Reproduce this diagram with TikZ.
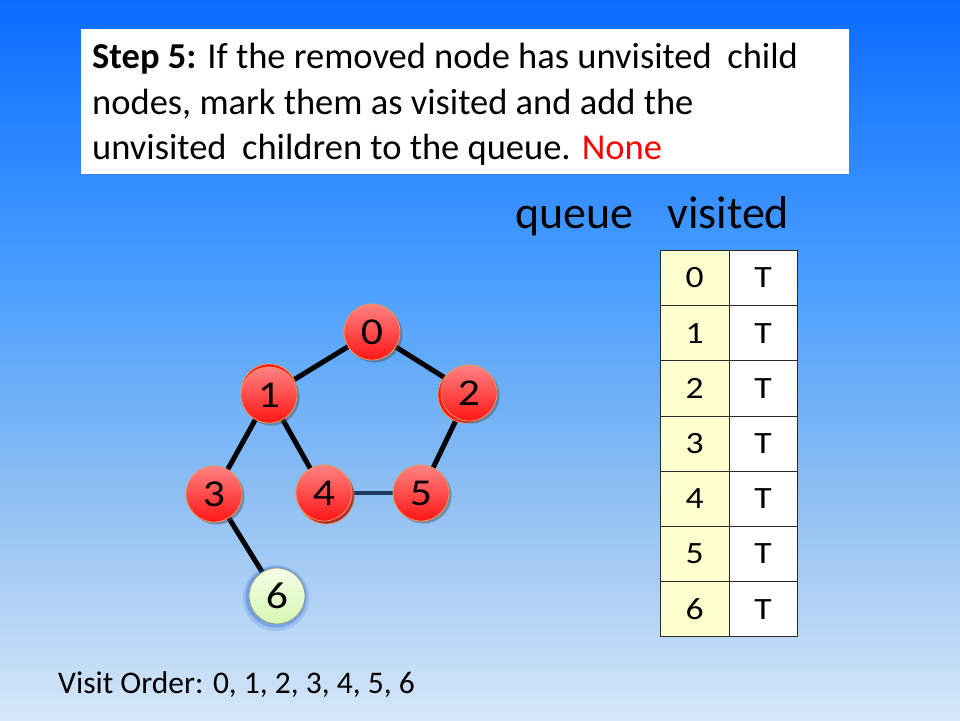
\documentclass[tikz,border=0pt]{standalone}
\usepackage{fontspec}
\setmainfont{Carlito}
\newfontfamily\widefont[FakeStretch=1.15]{Carlito}
\usetikzlibrary{shadows}
\definecolor{bgtop}{RGB}{10,108,255}
\definecolor{bgmidA}{RGB}{72,158,255}
\definecolor{bgmidB}{RGB}{140,190,242}
\definecolor{bgbot}{RGB}{214,231,249}
\definecolor{redtop}{RGB}{255,130,130}
\definecolor{redbot}{RGB}{255,22,22}
\definecolor{redline}{RGB}{240,150,90}
\definecolor{greentop}{RGB}{244,253,230}
\definecolor{greenbot}{RGB}{214,248,180}
\definecolor{greenline}{RGB}{140,150,140}
\definecolor{glowblue}{RGB}{40,100,210}
\definecolor{navyedge}{RGB}{28,58,95}
\definecolor{cellyellow}{RGB}{255,255,208}
\definecolor{gridline}{RGB}{40,40,40}
\pgfdeclareverticalshading{bgshade}{100bp}{color(0bp)=(bgbot); color(25bp)=(bgbot); color(41bp)=(bgmidB); color(56bp)=(bgmidA); color(75bp)=(bgtop); color(100bp)=(bgtop)}
\tikzset{
  vnode/.style={circle, minimum size=56pt, inner sep=0pt, draw=redline, line width=0.8pt,
    top color=redtop, bottom color=redbot, font=\widefont\fontsize{38}{38}\selectfont,
    drop shadow={shadow xshift=2.5pt, shadow yshift=-2.5pt, opacity=0.45, fill=black!70}},
  gnode/.style={circle, minimum size=56pt, inner sep=0pt, draw=greenline, line width=0.8pt,
    top color=greentop, bottom color=greenbot, font=\widefont\fontsize{38}{38}\selectfont},
  ghost/.style={fill=redbot, draw=redline, line width=0.8pt},
  edge/.style={line width=5pt, black},
  cell/.style={draw=gridline, line width=0.8pt, minimum width=68.5pt, minimum height=55.2pt,
    inner sep=0pt, font=\widefont\fontsize{31}{31}\selectfont, anchor=north west},
  htext/.style={anchor=base west, inner sep=0pt, font=\fontsize{36.5}{36.5}\selectfont},
}
\begin{document}
\begin{tikzpicture}[x=1pt, y=-1pt]
\useasboundingbox (0,0) rectangle (960,720);
\fill[shading=bgshade] (0,0) rectangle (960,720);
% header box
\fill[white] (81,29) rectangle (849,174);
\node[htext] (h1) at (92,68) {\textbf{Step 5:} If the removed node has unvisited\hspace{0.2em} child};
\node[htext] (h2) at (92,114) {nodes, mark them as visited and add the};
\node[htext] (h3) at (92,159) {unvisited\hspace{0.2em} children to the queue. \textcolor{red}{None}};
% headings
\node[anchor=base west, inner sep=0pt, font=\fontsize{46}{46}\selectfont] (q) at (515,228) {queue};
\node[anchor=base west, inner sep=0pt, font=\fontsize{46}{46}\selectfont] (v) at (667,228) {visited};
% table
\foreach \i in {0,...,6}{
  \node[cell, fill=cellyellow] (k\i) at (660,{250+55.2*\i}) {\i};
  \node[cell, fill=white] (t\i) at (728.5,{250+55.2*\i}) {T};
}
% graph edges
\coordinate (p0) at (372,332);
\coordinate (p1) at (269,395);
\coordinate (p2) at (469,393);
\coordinate (p3) at (214,494);
\coordinate (p4) at (324,493);
\coordinate (p5) at (421,493);
\coordinate (p6) at (277,596);
\draw[edge] (p0) -- (p1);
\draw[edge] (p0) -- (p2);
\draw[edge] (p1) -- (p3);
\draw[edge] (p1) -- (p4);
\draw[edge] (p2) -- (p5);
\draw[edge] (p3) -- (p6);
\draw[line width=4pt, navyedge] (p4) -- (p5);
% ghost copies behind some nodes
\path[ghost] (269,392) circle (28pt);
\path[ghost] (466,395) circle (28pt);
\path[ghost] (326,496) circle (28pt);
% glow for node 6
\fill[glowblue, opacity=0.18] (276,598) circle (33pt);
\fill[glowblue, opacity=0.30] (276,597) circle (30.5pt);
% nodes
\node[vnode] (n0) at (p0) {0};
\node[vnode] (n1) at (p1) {1};
\node[vnode] (n2) at (p2) {2};
\node[vnode] (n3) at (p3) {3};
\node[vnode] (n4) at (p4) {4};
\node[vnode] (n5) at (p5) {5};
\node[gnode] (n6) at (p6) {6};
% visit order
\node[anchor=base west, inner sep=0pt, font=\fontsize{31.5}{31.5}\selectfont] (vo) at (58,693) {Visit Order: 0, 1, 2, 3, 4, 5, 6};
\end{tikzpicture}
\end{document}
